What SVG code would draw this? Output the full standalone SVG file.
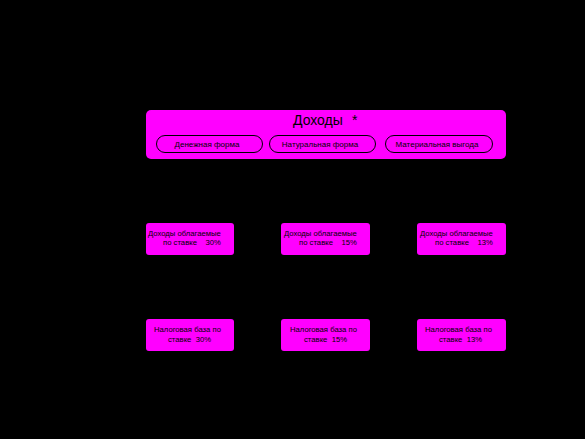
<svg xmlns="http://www.w3.org/2000/svg" width="585" height="439" viewBox="0 0 585 439">
<style>
.box{fill:#ff00ff;stroke:none}
.pill{fill:#ff00ff;stroke:#000;stroke-width:1}
text{font-family:"Liberation Sans",Arial,sans-serif;fill:#000}
.s{font-size:7.7px;white-space:pre}
.p{font-size:8px}
.t{font-size:14px}
</style>
<rect width="585" height="439" fill="#000"/>
<g id="income">
<rect class="box" x="146" y="110" width="360" height="49" rx="5"/>
<text class="t" x="293" y="125">Доходы</text>
<text class="t" x="352" y="125">*</text>
</g>
<g id="cash">
<rect class="pill" x="156.5" y="135.5" width="106" height="17" rx="8.5"/>
<text class="p" x="207" y="147" text-anchor="middle">Денежная форма</text>
</g>
<g id="natural">
<rect class="pill" x="269.5" y="135.5" width="106" height="17" rx="8.5"/>
<text class="p" x="320" y="147" text-anchor="middle">Натуральная форма</text>
</g>
<g id="material">
<rect class="pill" x="385.5" y="135.5" width="107" height="17" rx="8.5"/>
<text class="p" x="437" y="147" text-anchor="middle">Материальная выгода</text>
</g>
<g id="inc30">
<rect class="box" x="146" y="223" width="88" height="32" rx="3"/>
<text class="s" x="148" y="236">Доходы облагаемые</text>
<text class="s" x="163" y="245">по ставке    30%</text>
</g>
<g id="inc15">
<rect class="box" x="281" y="223" width="89" height="32" rx="3"/>
<text class="s" x="284" y="236">Доходы облагаемые</text>
<text class="s" x="299" y="245">по ставке    15%</text>
</g>
<g id="inc13">
<rect class="box" x="417" y="223" width="89" height="32" rx="3"/>
<text class="s" x="420" y="236">Доходы облагаемые</text>
<text class="s" x="435" y="245">по ставке    13%</text>
</g>
<g id="base30">
<rect class="box" x="146" y="319" width="88" height="32" rx="3"/>
<text class="s" x="154" y="332">Налоговая база по</text>
<text class="s" x="168" y="342">ставке  30%</text>
</g>
<g id="base15">
<rect class="box" x="281" y="319" width="89" height="32" rx="3"/>
<text class="s" x="290" y="332">Налоговая база по</text>
<text class="s" x="304" y="342">ставке  15%</text>
</g>
<g id="base13">
<rect class="box" x="417" y="319" width="89" height="32" rx="3"/>
<text class="s" x="425" y="332">Налоговая база по</text>
<text class="s" x="439" y="342">ставке  13%</text>
</g>
<g id="connectors"></g>
</svg>
